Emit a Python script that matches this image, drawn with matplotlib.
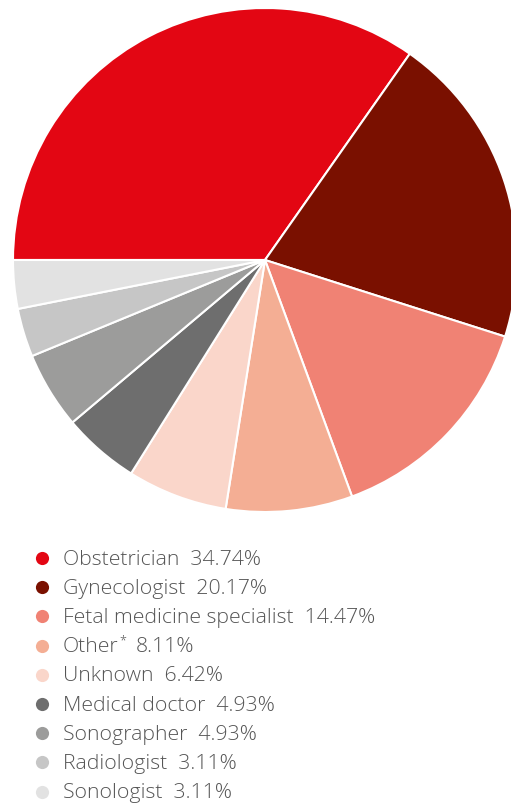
import matplotlib.pyplot as plt

labels = ["Obstetrician", "Gynecologist", "Fetal medicine specialist", "Other*",
          "Unknown", "Medical doctor", "Sonographer", "Radiologist", "Sonologist"]
values = [34.74, 20.17, 14.47, 8.11, 6.42, 4.93, 4.93, 3.11, 3.11]
colors = ["#E30613", "#7A1000", "#F08274", "#F4AE94", "#FAD6CA",
          "#6E6E6E", "#9C9C9B", "#C6C6C6", "#E2E2E2"]

plt.rcParams['font.family'] = ['Open Sans', 'DejaVu Sans']

W, H = 511, 805
fig = plt.figure(figsize=(W / 100, H / 100), dpi=100)

# pie
ax = fig.add_axes([13 / W, 293 / H, 504 / W, 504 / H])
ax.pie(values, colors=colors, startangle=180, counterclock=False, radius=1,
       wedgeprops=dict(edgecolor="white", linewidth=1.5))
ax.set_xlim(-1, 1)
ax.set_ylim(-1, 1)
ax.set_aspect("equal")
ax.axis("off")

# legend, in pixel coords
lax = fig.add_axes([0, 0, 1, 1])
lax.set_xlim(0, W)
lax.set_ylim(H, 0)
lax.axis("off")
fs = 15.3
tc = "#555555"
y0, dy = 559.5, 29.2
for i, (lab, v, c) in enumerate(zip(labels, values, colors)):
    y = y0 + i * dy
    lax.scatter([42], [y - 1.5], s=90, color=c, linewidths=0)
    if lab.endswith("*"):
        t = lax.text(63, y, lab[:-1], fontsize=fs, color=tc,
                     fontweight="light", va="center")
        fig.canvas.draw()
        x1 = t.get_window_extent().x1
        st = fig.text(x1 / W + 0.002, 1 - (y - 6) / H, "*", fontsize=9,
                      color=tc, fontweight="light", va="center")
        fig.canvas.draw()
        x2 = st.get_window_extent().x1
        fig.text(x2 / W + 0.018, 1 - y / H, f"{v:.2f}%", fontsize=fs,
                 color=tc, fontweight="light", va="center")
    else:
        lax.text(63, y, f"{lab}  {v:.2f}%", fontsize=fs, color=tc,
                 fontweight="light", va="center")

fig.savefig("out.png", dpi=100)
